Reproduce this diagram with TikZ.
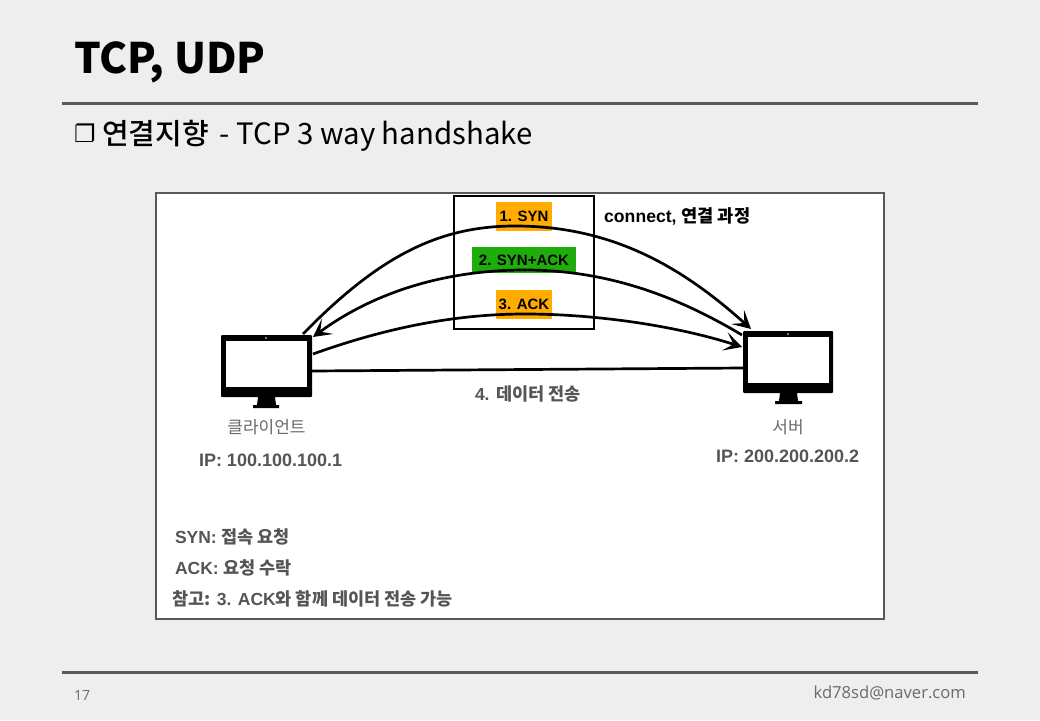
\documentclass[tikz,border=0pt]{standalone}
\usepackage{fontspec}
\setmainfont{Liberation Sans}
\newfontfamily\kr{Noto Sans CJK KR}
\newfontfamily\krm{Noto Sans CJK KR Medium}
\newfontfamily\dv{DejaVu Sans}
\newfontfamily\ops{Open Sans}
\usetikzlibrary{arrows.meta}
\definecolor{pagebg}{HTML}{EEEEEE}
\definecolor{rulegray}{HTML}{595959}
\definecolor{labgray}{HTML}{555555}
\definecolor{thingray}{HTML}{6A6A6A}
\definecolor{tagorange}{HTML}{FFAB00}
\definecolor{taggreen}{HTML}{1FAD0B}
\newcommand{\fs}[1]{\fontsize{#1}{#1}\selectfont}
\newcommand{\ko}[1]{{\krm #1}}
\tikzset{
  x=1pt,y=-1pt,
  slidetext/.style={anchor=west,inner sep=0pt,outer sep=0pt},
  tag/.style={minimum width=#1,minimum height=29pt,inner sep=0pt,outer sep=0pt,font=\fs{15}\bfseries,text=black},
  lab/.style={anchor=west,inner sep=0pt,outer sep=0pt,font=\fs{17.5}\bfseries,text=labgray},
  sketch/.style={draw=black,line width=2.7pt},
  tipped/.style={sketch,-{Stealth[length=18pt,width=19pt,inset=9pt]}},
  screenbody/.style={fill=black,draw=none,rounded corners=1pt,inner sep=0pt,outer sep=0pt,minimum width=91pt,minimum height=62pt},
}
\begin{document}
\begin{tikzpicture}
\useasboundingbox (0,0) rectangle (1040,720);
\fill[pagebg] (0,0) rectangle (1040,720);
% slide furniture
\node[slidetext] (title) at (74,62) {\fs{42}\kr\bfseries TCP, UDP};
\draw[rulegray,line width=3pt] (62,103) -- (978,103);
\node[slidetext] (bullet) at (74,133) {\fs{24}\dv ❐};
\node[slidetext] (subtitle) at (102,136) {\fs{29}\krm 연결지향\hspace{11pt}\fs{29.4}\kr - TCP 3 way handshake};
\draw[rulegray,line width=3pt] (62,672) -- (978,672);
\node[slidetext,text=thingray] (pageno) at (74,695) {\fs{14}\ops 17};
\node[inner sep=0pt,anchor=east,text=thingray] (mail) at (966,693) {\fs{16.6}\ops kd78sd@naver.com};
% figure frame
\node[draw=rulegray,fill=white,line width=2pt,minimum width=728pt,minimum height=426pt,inner sep=0pt,anchor=north west] (frame) at (155,192) {};
% tags
\node[tag=56pt,fill=tagorange] (syn) at (524,216) {1. SYN};
\node[tag=104pt,fill=taggreen,minimum height=26pt] (synack) at (524,260) {2. SYN+ACK};
\node[tag=56pt,fill=tagorange] (ack) at (524,304.5) {3. ACK};
\node[draw=black,line width=2.5pt,minimum width=140pt,minimum height=133pt,inner sep=0pt,anchor=north west] (window) at (452.75,194.75) {};
\node[anchor=west,inner sep=0pt,font=\fs{17.6}\bfseries] (connect) at (604,216) {connect, \ko{연결 과정}};
% client
\node[screenbody] (client) at (266.5,366) {};
\fill[white] (226,341) rectangle (307,387);
\fill[white] (266,338) circle (0.8);
\fill[black] (258,397) -- (275,397) -- (276,405) -- (279,405) -- (279,408) -- (253,408) -- (253,405) -- (257,405) -- cycle;
% server
\node[screenbody,minimum width=90pt] (server) at (788,362) {};
\fill[white] (748,337) rectangle (829,383);
\fill[white] (788,334) circle (0.8);
\fill[black] (780,393) -- (797,393) -- (798,401) -- (802,401) -- (802,404) -- (775,404) -- (775,401) -- (779,401) -- cycle;
% connector ends
\coordinate (cSyn) at (303,334);
\coordinate (cSynAck) at (313,337);
\coordinate (cAck) at (313,354);
\coordinate (cData) at (client.east |- 0,371);
\coordinate (sSyn) at (751,329);
\coordinate (sSynAck) at (742,335);
\coordinate (sAck) at (742,347);
\coordinate (sData) at (server.west |- 0,368);
% connectors
\draw[tipped] (cSyn) .. controls (380,255) and (440,226) .. (515,226) .. controls (610,226) and (680,265) .. (sSyn);
\draw[tipped] (sSynAck) .. controls (680,298) and (610,270) .. (525,270) .. controls (440,270) and (370,295) .. (cSynAck);
\draw[tipped] (cAck) .. controls (380,330) and (450,314) .. (525,314) .. controls (600,314) and (680,327) .. (sAck);
\draw[sketch] (cData) -- (sData);
% labels
\node[lab] (data) at (475,394) {4. \ko{데이터 전송}};
\node[anchor=center,inner sep=0pt,text=thingray,font=\fs{17}\kr] (clientname) at (266.5,427) {클라이언트};
\node[lab,font=\fs{18}\bfseries] (clientip) at (199,460) {IP: 100.100.100.1};
\node[lab,font=\fs{18}\bfseries] (serverip) at (716,456.5) {IP: 200.200.200.2};
\node[anchor=center,inner sep=0pt,text=thingray,font=\fs{17}\kr] (servername) at (788,427) {서버};
\node[lab] (n1) at (175,537) {SYN: \ko{접속 요청}};
\node[lab] (n2) at (175,568) {ACK: \ko{요청 수락}};
\node[lab] (n3) at (172,599) {\ko{참고:} 3. ACK\ko{와 함께 데이터 전송 가능}};
\end{tikzpicture}
\end{document}
